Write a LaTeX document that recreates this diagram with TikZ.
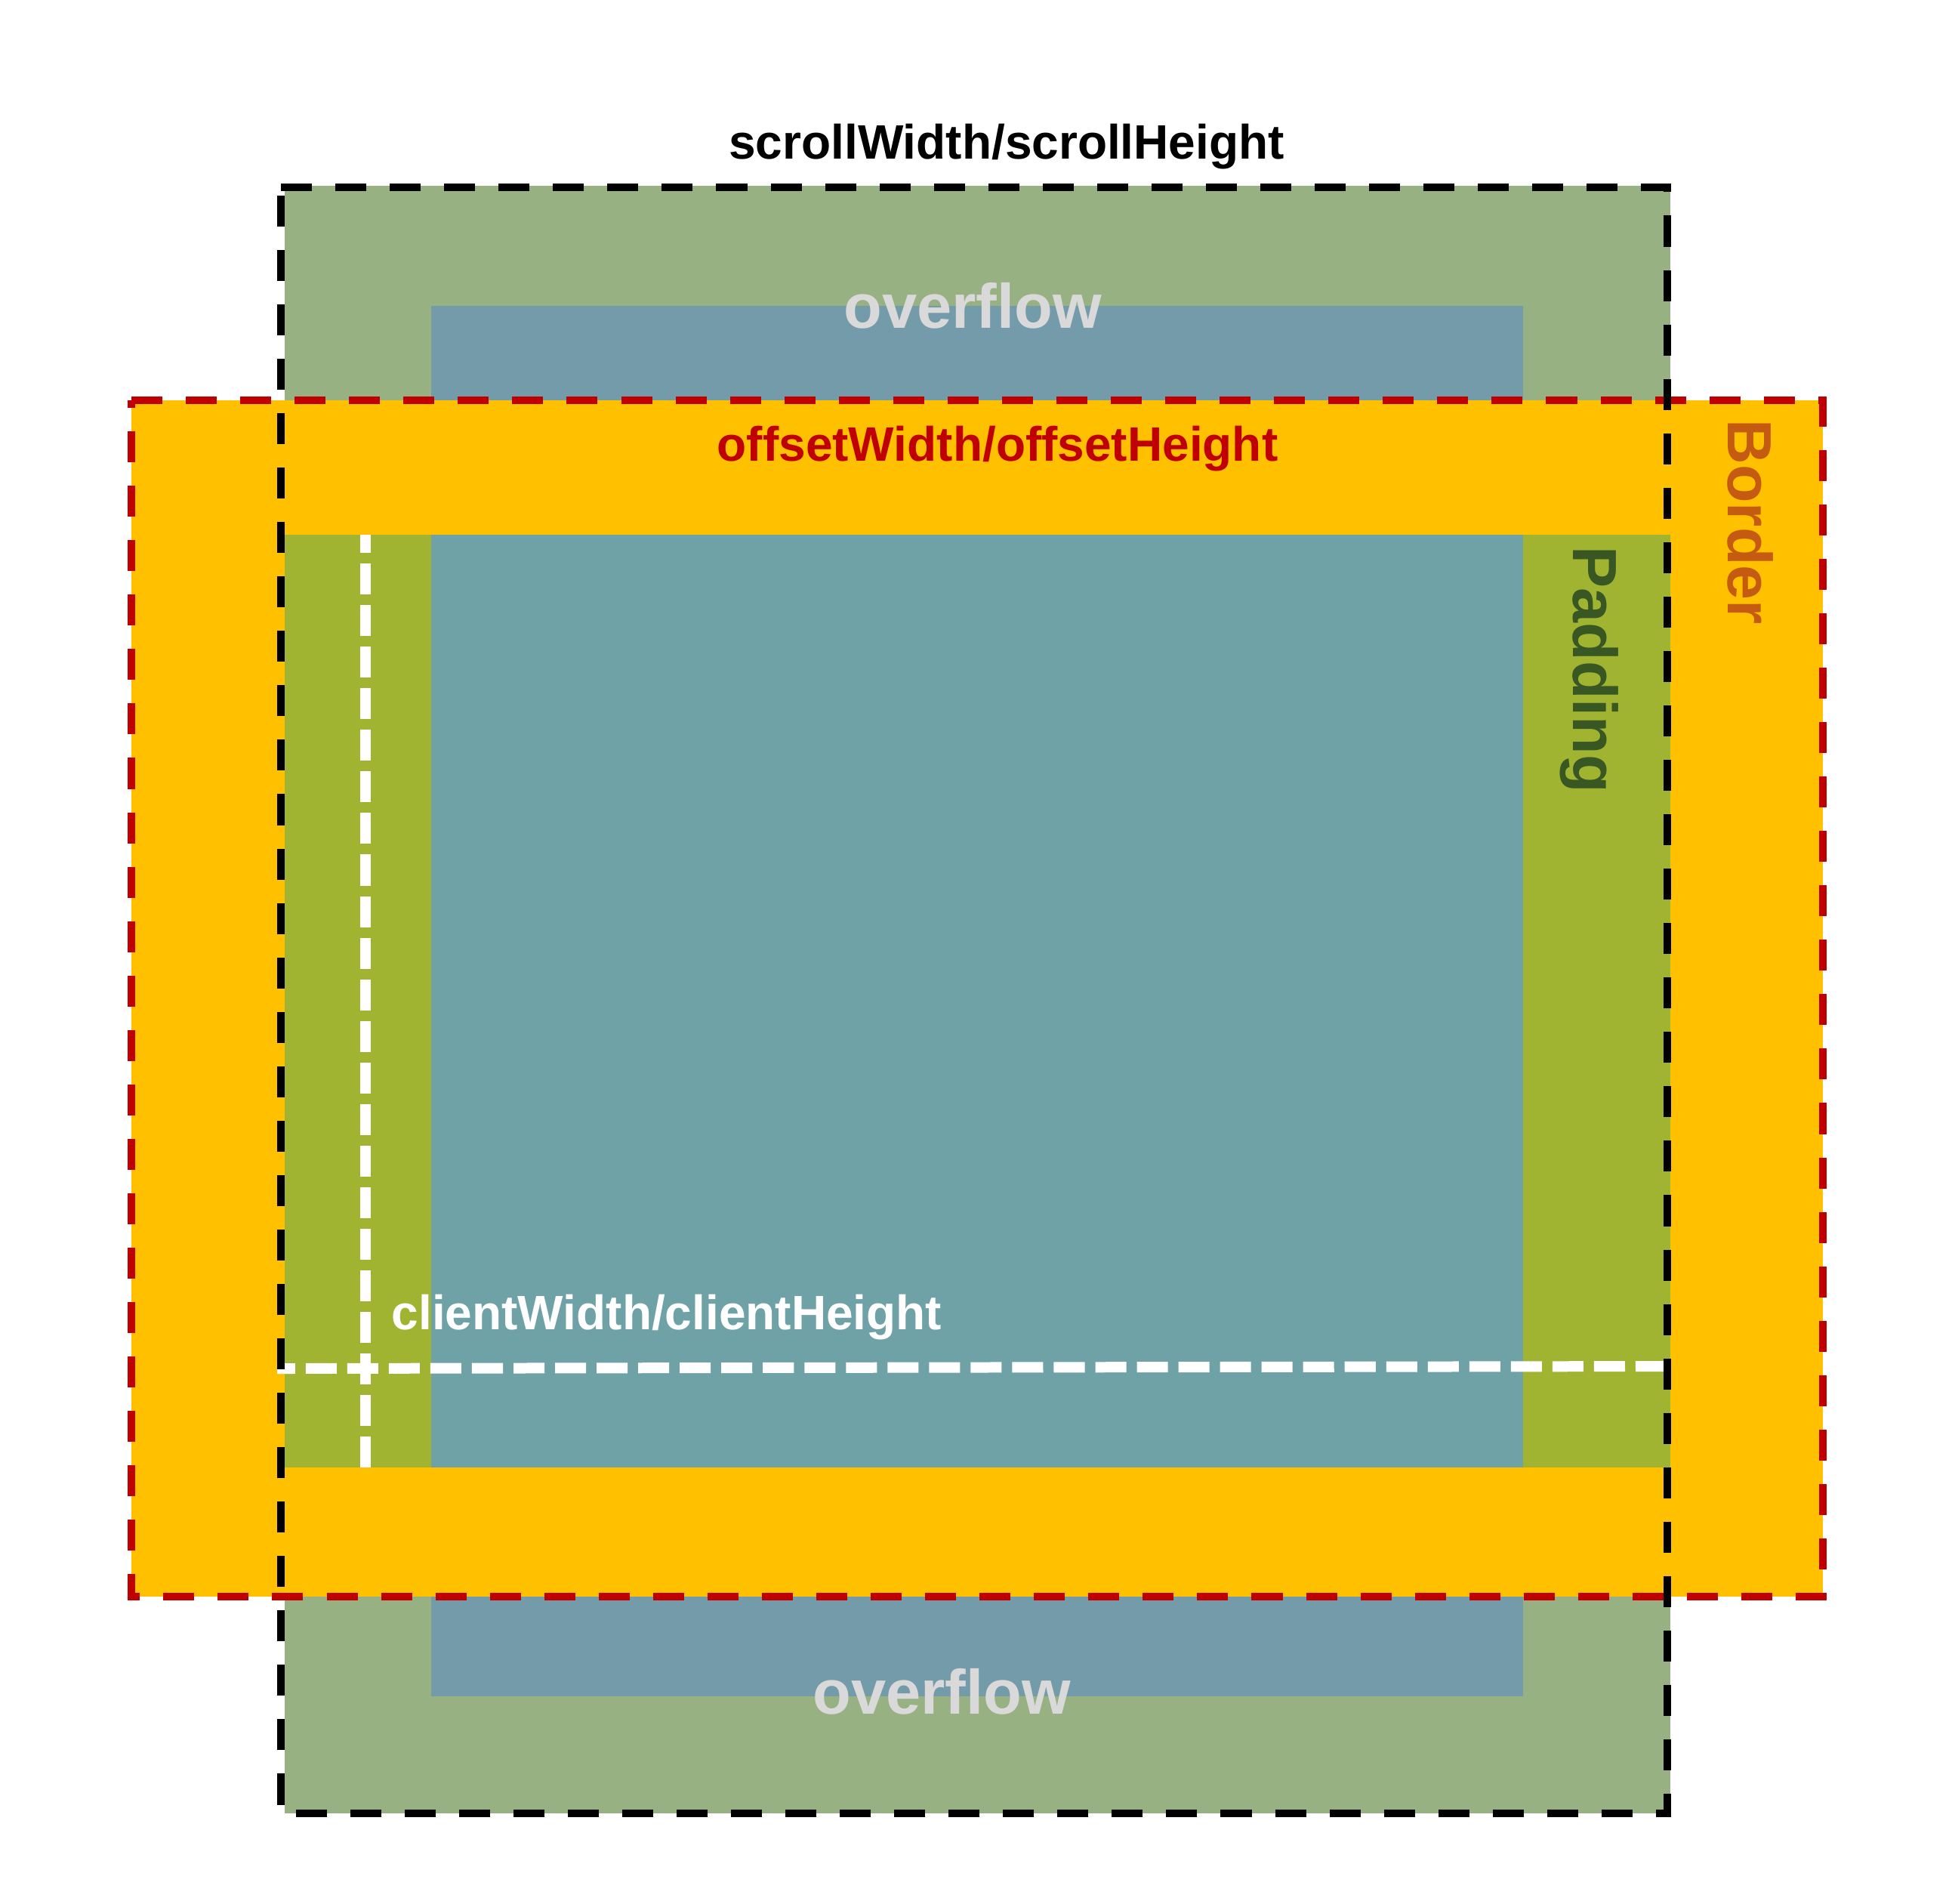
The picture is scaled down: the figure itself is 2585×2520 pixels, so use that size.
\documentclass[tikz,border=0pt]{standalone}
\usepackage{fontspec}
\setmainfont{Liberation Sans}
\definecolor{ovgreen}{HTML}{97B182}
\definecolor{ovblue}{HTML}{749BAA}
\definecolor{bordorange}{HTML}{FFC000}
\definecolor{padgreen}{HTML}{A0B432}
\definecolor{contblue}{HTML}{6FA2A6}
\definecolor{offred}{HTML}{C00000}
\definecolor{bordtext}{HTML}{C55A11}
\definecolor{padtext}{HTML}{385723}
\definecolor{ovtext}{HTML}{D9D9D9}
\begin{document}
\begin{tikzpicture}[x=0.01cm,y=-0.01cm,
  lbl/.style={inner sep=0pt, font=\fontsize{18.2pt}{22pt}\selectfont\bfseries},
  ovlbl/.style={inner sep=0pt, font=\fontsize{23.6pt}{28pt}\selectfont\bfseries, text=ovtext},
  sidelbl/.style={inner sep=0pt, font=\fontsize{23.5pt}{28pt}\selectfont\bfseries, rotate=-90, anchor=base west},
  blackdash/.style={draw=black, line width=2.85pt, dash pattern=on 11.67pt off 8.82pt},
  reddash/.style={draw=offred, line width=2.95pt, dash pattern=on 11.67pt off 8.82pt},
  whitedash/.style={draw=white, line width=3.98pt, dash pattern=on 11.67pt off 3.98pt}]
\useasboundingbox (0,0) rectangle (2585,2520);
\fill[white] (0,0) rectangle (2585,2520);
% overflow area
\fill[ovgreen] (377,246) rectangle (2212,2401);
\fill[ovblue] (571,405) rectangle (2017,2246);
% border
\fill[bordorange] (174,530) rectangle (2414,2114);
% padding and content
\fill[padgreen] (377,708) rectangle (2212,1943);
\fill[contblue] (571,708) rectangle (2017,1943);
% texts
\node[lbl, anchor=base, text=black] (scroll) at (1333,210) {scrollWidth/scrollHeight};
\node[ovlbl, anchor=base] (ovtop) at (1288,434) {overflow};
\node[lbl, anchor=base, text=offred] (offset) at (1321,610) {offsetWidth/offsetHeight};
\node[lbl, anchor=base west, text=white] (client) at (518,1760) {clientWidth/clientHeight};
\node[ovlbl, anchor=base] (ovbot) at (1247,2269) {overflow};
\node[sidelbl, text=bordtext] (border) at (2288,555) {Border};
\node[sidelbl, text=padtext] (padding) at (2083,723) {Padding};
% client dashed lines
\coordinate (cv1) at (484,1943);
\coordinate (cv2) at (484,708);
\coordinate (ch1) at (2207,1809);
\coordinate (ch2) at (367,1812);
\draw[whitedash] (cv1) -- (cv2);
\draw[whitedash] (ch1) -- (ch2);
% offset (red) dashed box
\coordinate (r1) at (174,530);
\coordinate (r2) at (2414,530);
\coordinate (r3) at (2414,2114);
\coordinate (r4) at (174,2114);
\draw[reddash] (r1) -- (r2) -- (r3) -- (r4) -- cycle;
% scroll (black) dashed box
\coordinate (b1) at (372,248);
\coordinate (b2) at (2208,248);
\coordinate (b3) at (2208,2401);
\coordinate (b4) at (372,2401);
\draw[blackdash] (b1) -- (b2) -- (b3) -- (b4) -- cycle;
\end{tikzpicture}
\end{document}
